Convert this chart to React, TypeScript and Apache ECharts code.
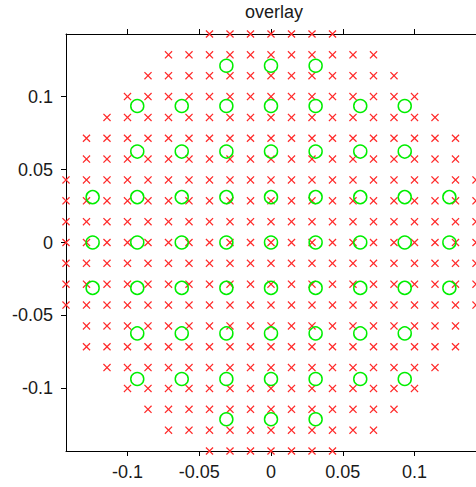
import React, { useEffect, useRef } from 'react';
import * as echarts from 'echarts';

const TITLE = 'overlay';
const AXIS_MIN = -0.142857;
const AXIS_MAX = 0.142857;
const TICK_VALUES = [-0.1, -0.05, 0, 0.05, 0.1];
const TICK_LABELS = ['-0.1', '-0.05', '0', '0.05', '0.1'];

// red "x" grid: step, row indices (top to bottom) and half span (in steps) per row
const RED_STEP = 0.0142857;
const RED_ROW_INDEX = [10, 9, 8, 7, 6, 5, 4, 3, 2, 1, 0, -1, -2, -3, -4, -5, -6, -7, -8, -9, -10];
const RED_ROW_HALF_SPAN = [3, 5, 6, 7, 8, 9, 9, 10, 10, 10, 10, 10, 10, 10, 9, 9, 8, 7, 6, 5, 3];

// green "o" points: column x values, row y values, first/last column per row
const GREEN_X = [-0.1243, -0.0932, -0.0622, -0.0311, 0, 0.0311, 0.0622, 0.0932, 0.1243];
const GREEN_ROW_Y = [0.1211, 0.0935, 0.0623, 0.0311, 0, -0.0311, -0.0623, -0.0935, -0.1211];
const GREEN_ROW_FIRST_COL = [3, 1, 1, 0, 0, 0, 1, 1, 3];
const GREEN_ROW_LAST_COL = [5, 7, 7, 8, 8, 8, 7, 7, 5];

const FONT = 'Liberation Sans, Arial, sans-serif';
const RED = '#ff2a2a';
const GREEN = '#00ee00';
const X_SYMBOL = 'path://M0,1.1L1.1,0L5,3.9L8.9,0L10,1.1L6.1,5L10,8.9L8.9,10L5,6.1L1.1,10L0,8.9L3.9,5Z';

function buildRed(): number[][] {
  const pts: number[][] = [];
  RED_ROW_INDEX.forEach((j, r) => {
    const span = RED_ROW_HALF_SPAN[r];
    for (let i = -span; i <= span; i++) {
      pts.push([i * RED_STEP, j * RED_STEP]);
    }
  });
  return pts;
}

function buildGreen(): number[][] {
  const pts: number[][] = [];
  GREEN_ROW_Y.forEach((y, r) => {
    for (let c = GREEN_ROW_FIRST_COL[r]; c <= GREEN_ROW_LAST_COL[r]; c++) {
      pts.push([GREEN_X[c], y]);
    }
  });
  return pts;
}

function fmt(v: number): string {
  let best = 0;
  let bd = Infinity;
  TICK_VALUES.forEach((t, k) => {
    const d = Math.abs(t - v);
    if (d < bd) {
      bd = d;
      best = k;
    }
  });
  return TICK_LABELS[best];
}

export default function App() {
  const ref = useRef<HTMLDivElement>(null);
  useEffect(() => {
    if (!ref.current) return;
    const chart = echarts.init(ref.current, null, { renderer: 'svg' });
    const axisLine = { show: true, onZero: false, lineStyle: { color: '#000', width: 1 } };
    const tick = { show: true, inside: false, length: 5, customValues: TICK_VALUES, lineStyle: { color: '#000', width: 1 } };
    const baseAxis = {
      type: 'value',
      min: AXIS_MIN,
      max: AXIS_MAX,
      splitLine: { show: false },
      axisPointer: { show: false },
      axisLine,
      axisTick: tick,
    };
    chart.setOption({
      animation: false,
      backgroundColor: '#fff',
      title: {
        text: TITLE,
        left: 274,
        top: 3,
        padding: 0,
        textAlign: 'center',
        textStyle: { fontFamily: FONT, fontSize: 18, fontWeight: 'normal', color: '#1a1a1a' },
      },
      grid: { left: 66, top: 34, right: -6, bottom: 36, containLabel: false },
      xAxis: [
        {
          ...baseAxis,
          position: 'bottom',
          axisLabel: {
            show: true,
            customValues: TICK_VALUES,
            formatter: fmt,
            margin: 12,
            color: '#1a1a1a',
            fontFamily: FONT,
            fontSize: 18,
          },
        },
        {
          ...baseAxis,
          position: 'top',
          axisLabel: { show: false },
        },
      ],
      yAxis: [
        {
          ...baseAxis,
          position: 'left',
          axisLabel: {
            show: true,
            customValues: TICK_VALUES,
            formatter: fmt,
            margin: 13,
            color: '#1a1a1a',
            fontFamily: FONT,
            fontSize: 18,
          },
        },
        {
          ...baseAxis,
          position: 'right',
          axisLabel: { show: false },
        },
      ],
      series: [
        {
          type: 'scatter',
          name: 'grid',
          xAxisIndex: 0,
          yAxisIndex: 0,
          data: buildRed(),
          symbol: X_SYMBOL,
          symbolSize: 8,
          clip: false,
          silent: true,
          color: RED,
          itemStyle: { color: RED, borderWidth: 0, opacity: 1 },
          emphasis: { disabled: true },
          z: 3,
        },
        {
          type: 'scatter',
          name: 'samples',
          xAxisIndex: 0,
          yAxisIndex: 0,
          data: buildGreen(),
          symbol: 'circle',
          symbolSize: 13,
          clip: false,
          silent: true,
          color: GREEN,
          itemStyle: { color: 'rgba(0,0,0,0)', borderColor: GREEN, borderWidth: 1.5, opacity: 1 },
          emphasis: { disabled: true },
          z: 4,
        },
      ],
    });
    return () => chart.dispose();
  }, []);
  return (
    <div
      ref={ref}
      style={{ position: 'absolute', left: 0, top: 0, width: 476, height: 487 }}
    />
  );
}
